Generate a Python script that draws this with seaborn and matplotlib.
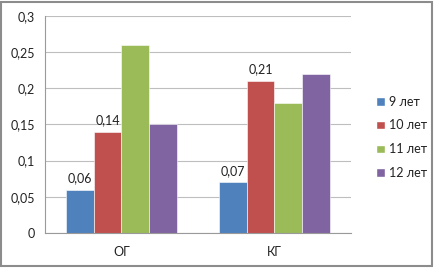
import matplotlib
matplotlib.use("Agg")
import matplotlib.pyplot as plt
from matplotlib.patches import Rectangle
from matplotlib.ticker import FuncFormatter, FixedLocator
import pandas as pd
import seaborn as sns

# Данные
groups = ["ОГ", "КГ"]
ages = ["9 лет", "10 лет", "11 лет", "12 лет"]
vals_og = [0.06, 0.14, 0.26, 0.15]
vals_kg = [0.07, 0.21, 0.18, 0.22]
colors = ["#4F81BD", "#C0504D", "#9BBB59", "#8064A2"]
labeled = ["9 лет", "10 лет"]  # подписи только у этих рядов

rows = []
for g, vals in zip(groups, [vals_og, vals_kg]):
    for a, v in zip(ages, vals):
        rows.append({"group": g, "age": a, "value": v})
df = pd.DataFrame(rows)

sns.set_style("white")
plt.rcParams["font.family"] = ["Lato", "DejaVu Sans"]
fs = 9

fig = plt.figure(figsize=(4.35, 2.68), dpi=100)
ax = fig.add_axes([45 / 435, 1 - 233 / 268, (351 - 45) / 435, (233 - 15.7) / 268])

sns.barplot(data=df, x="group", y="value", hue="age", order=groups, hue_order=ages,
            palette=colors, width=0.72, ax=ax, saturation=1, legend=True)

for bars, age in zip(ax.containers, ages):
    for b in bars:
        b.set_edgecolor("white")
        b.set_linewidth(0.4)
    if age in labeled:
        for b in bars:
            h = b.get_height()
            ax.annotate(f"{h:.2f}".replace(".", ","), (b.get_x() + b.get_width() / 2, h),
                        xytext=(0, 4), textcoords="offset points", ha="center", va="bottom",
                        fontsize=fs, color="#222222")

ax.set_ylim(0, 0.3)
ax.set_xlim(-0.5, 1.5)
ax.set_yticks([0, 0.05, 0.1, 0.15, 0.2, 0.25, 0.3])
ax.yaxis.set_major_formatter(FuncFormatter(lambda v, p: ("%g" % round(v, 2)).replace(".", ",")))
ax.grid(axis="y", color="#BEBEBE", linewidth=0.8)
ax.set_axisbelow(True)
ax.set_xlabel("")
ax.set_ylabel("")

for s in ["top", "right"]:
    ax.spines[s].set_visible(False)
for s in ["left", "bottom"]:
    ax.spines[s].set_color("#9A9A9A")
    ax.spines[s].set_linewidth(0.8)

ax.tick_params(axis="y", length=4, width=0.8, color="#9A9A9A", pad=3,
               labelcolor="#222222", labelsize=fs)
ax.tick_params(axis="x", which="major", length=0, pad=9,
               labelcolor="#222222", labelsize=fs)
ax.xaxis.set_minor_locator(FixedLocator([-0.5, 0.5, 1.5]))
ax.tick_params(axis="x", which="minor", length=4, width=0.8, color="#9A9A9A")

leg = ax.legend(loc="center left", bbox_to_anchor=(1.045, 0.44), frameon=False,
                handlelength=0.7, handleheight=0.7, handletextpad=0.35,
                labelspacing=0.95, fontsize=fs)
for t in leg.get_texts():
    t.set_color("#222222")

# рамка диаграммы
fig.patches.append(Rectangle((1.5 / 435, 2.5 / 268), 431 / 435, 264 / 268,
                             transform=fig.transFigure, fill=False,
                             edgecolor="#8C8C8C", linewidth=1.5))

fig.savefig("out.png", dpi=100)
